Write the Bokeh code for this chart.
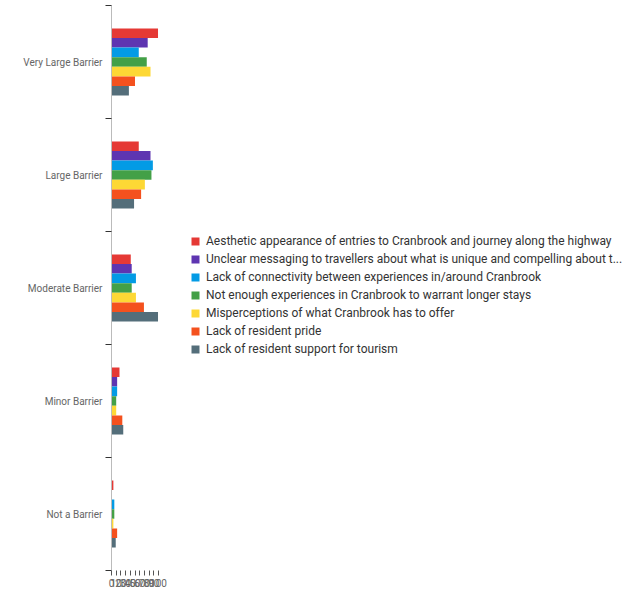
from bokeh.plotting import figure
from bokeh.models import FixedTicker, Legend, LegendItem, Range1d
from bokeh.embed import file_html
from bokeh.resources import INLINE

categories = ["Very Large Barrier", "Large Barrier", "Moderate Barrier", "Minor Barrier", "Not a Barrier"]
series_names = [
    "Aesthetic appearance of entries to Cranbrook and journey along the highway",
    "Unclear messaging to travellers about what is unique and compelling about t...",
    "Lack of connectivity between experiences in/around Cranbrook",
    "Not enough experiences in Cranbrook to warrant longer stays",
    "Misperceptions of what Cranbrook has to offer",
    "Lack of resident pride",
    "Lack of resident support for tourism",
]
colors = ["#e53935", "#5e35b1", "#039be5", "#43a047", "#fdd835", "#f4511e", "#546e7a"]
# values per series, in category order (Very Large .. Not a Barrier)
aesthetic = [99, 58, 41, 17, 4]
messaging = [77, 83, 43, 12, 1]
connectivity = [58, 88, 52, 12, 6]
experiences = [75, 85, 43, 10, 6]
misperceptions = [83, 71, 52, 10, 4]
pride = [50, 63, 69, 23, 12]
support = [37, 48, 99, 25, 9]
series_values = [aesthetic, messaging, connectivity, experiences, misperceptions, pride, support]
x_ticks = list(range(0, 101, 10))

FONT = "Roboto"
bar_h = 0.085
n_cat = len(categories)
n_ser = len(series_names)

p = figure(frame_width=47, frame_height=565, output_backend="svg", toolbar_location=None,
           x_range=Range1d(0, 100), y_range=Range1d(-0.5, n_cat - 0.5),
           min_border_left=111, min_border_top=5, min_border_right=470, min_border_bottom=0)
p.outline_line_color = None
p.grid.visible = False
p.background_fill_color = "white"
p.border_fill_color = "white"

centers = [n_cat - 1 - i for i in range(n_cat)]
items = []
for j in range(n_ser):
    ys = [c + ((n_ser - 1) / 2 - j) * bar_h for c in centers]
    r = p.hbar(y=ys, right=series_values[j], left=0, height=bar_h,
               fill_color=colors[j], line_color=None)
    items.append(LegendItem(label=series_names[j], renderers=[r]))

# y axis
p.yaxis.ticker = FixedTicker(ticks=centers, minor_ticks=[k - 0.5 for k in range(n_cat + 1)])
p.yaxis.major_label_overrides = {c: categories[i] for i, c in enumerate(centers)}
p.yaxis.major_tick_line_color = None
p.yaxis.minor_tick_in = 0
p.yaxis.minor_tick_out = 6
p.yaxis.minor_tick_line_color = "#333333"
p.yaxis.axis_line_color = "#bbbbbb"
p.yaxis.major_label_text_font = FONT
p.yaxis.major_label_text_font_size = "10px"
p.yaxis.major_label_text_color = "#666666"
p.yaxis.major_label_standoff = 3

# x axis
p.xaxis.ticker = FixedTicker(ticks=x_ticks, minor_ticks=[])
p.xaxis.axis_line_color = None
p.xaxis.major_tick_in = 0
p.xaxis.major_tick_out = 5
p.xaxis.major_tick_line_color = "#555555"
p.xaxis.major_label_text_font = FONT
p.xaxis.major_label_text_font_size = "10px"
p.xaxis.major_label_text_color = "#666666"
p.xaxis.major_label_standoff = 3

legend = Legend(items=items, location=(32, 214))
legend.border_line_color = None
legend.background_fill_alpha = 0
legend.padding = 0
legend.margin = 0
legend.glyph_width = 10
legend.glyph_height = 10
legend.label_height = 14
legend.spacing = 4
legend.label_standoff = 6
legend.label_text_font = FONT
legend.label_text_font_size = "12px"
legend.label_text_color = "#333333"
p.add_layout(legend, "right")

open("out.html", "w").write(file_html(p, INLINE))
